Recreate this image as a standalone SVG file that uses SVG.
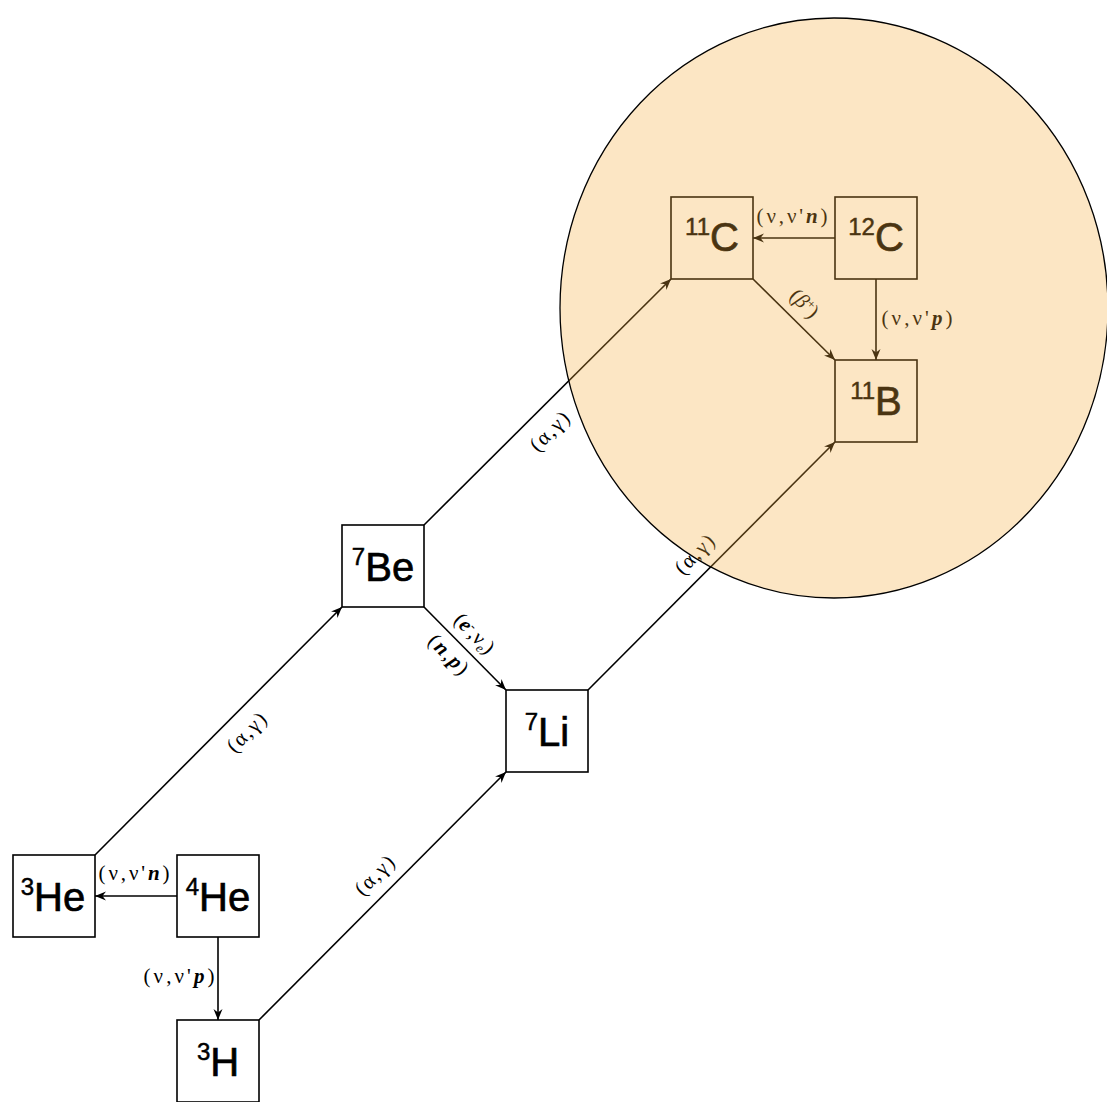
<svg xmlns="http://www.w3.org/2000/svg" width="1107" height="1102" viewBox="0 0 1107 1102">
<style>
.box{fill:#fff;stroke:#000;stroke-width:1.6}
.nt{font-family:"Liberation Sans",Arial,sans-serif;font-size:40px;fill:#000;stroke:#000;stroke-width:0.7;text-anchor:middle}
.sup{font-size:24px;stroke-width:0.5}
.lbl{font-family:"Liberation Serif","Times New Roman",serif;font-size:21px;fill:#000;text-anchor:middle}
.bi{font-weight:bold;font-style:italic}
.it{font-style:italic}
.edge{fill:none;stroke:#000;stroke-width:1.6;marker-end:url(#arr)}
</style>
<defs>
<marker id="arr" viewBox="0 0 11 10" refX="11" refY="5" markerWidth="11" markerHeight="10" markerUnits="userSpaceOnUse" orient="auto">
<path d="M0,0.5 L11,5 L0,9.5 L3.5,5 Z" fill="#000"/>
</marker>
</defs>
<rect width="1107" height="1102" fill="#fff"/>
<g id="connectors">
<line class="edge" x1="835" y1="238" x2="753" y2="238"/>
<line class="edge" x1="876" y1="279" x2="876" y2="360"/>
<line class="edge" x1="753" y1="279" x2="835" y2="360"/>
<line class="edge" x1="424" y1="525" x2="671" y2="279"/>
<line class="edge" x1="588" y1="690" x2="835" y2="442"/>
<line class="edge" x1="424" y1="607" x2="506" y2="690"/>
<line class="edge" x1="95" y1="855" x2="342" y2="607"/>
<line class="edge" x1="259" y1="1020" x2="506" y2="772"/>
<line class="edge" x1="177" y1="896" x2="95" y2="896"/>
<line class="edge" x1="218" y1="937" x2="218" y2="1020"/>
<text class="lbl" x="792" y="223" textLength="71" lengthAdjust="spacing">(ν,ν'<tspan class="bi">n</tspan>)</text>
<text class="lbl" x="917" y="325" textLength="71" lengthAdjust="spacing">(ν,ν'<tspan class="bi">p</tspan>)</text>
<text class="lbl" x="134" y="880" textLength="71" lengthAdjust="spacing">(ν,ν'<tspan class="bi">n</tspan>)</text>
<text class="lbl" x="179" y="983" textLength="71" lengthAdjust="spacing">(ν,ν'<tspan class="bi">p</tspan>)</text>
<g transform="translate(804,304) rotate(45)"><text class="lbl" x="0" y="6">(<tspan class="it">β</tspan><tspan font-size="13" dy="-7">+</tspan><tspan dy="7">)</tspan></text></g>
<g transform="translate(474,634) rotate(45)"><text class="lbl" x="0" y="6">(<tspan class="bi">e</tspan><tspan font-size="13" dy="-7">-</tspan><tspan dy="7">,ν</tspan><tspan font-size="13" class="it" dy="4">e</tspan><tspan dy="-4">)</tspan></text></g>
<g transform="translate(448,655) rotate(45)"><text class="lbl" x="0" y="6" textLength="48" lengthAdjust="spacing">(<tspan class="bi">n</tspan>,<tspan class="bi">p</tspan>)</text></g>
<g transform="translate(247,733) rotate(-45)"><text class="lbl" x="0" y="6" textLength="47" lengthAdjust="spacing">(α,γ)</text></g>
<g transform="translate(375,876) rotate(-45)"><text class="lbl" x="0" y="6" textLength="47" lengthAdjust="spacing">(α,γ)</text></g>
<g transform="translate(550,432) rotate(-45)"><text class="lbl" x="0" y="6" textLength="47" lengthAdjust="spacing">(α,γ)</text></g>
<g transform="translate(695,555) rotate(-45)"><text class="lbl" x="0" y="6" textLength="47" lengthAdjust="spacing">(α,γ)</text></g>
</g>
<g id="n11C"><rect class="box" x="671" y="197" width="82" height="82"/><text class="nt" x="712" y="251"><tspan class="sup" dy="-16">11</tspan><tspan dy="16">C</tspan></text></g>
<g id="n12C"><rect class="box" x="835" y="197" width="82" height="82"/><text class="nt" x="876" y="251"><tspan class="sup" dy="-16">12</tspan><tspan dy="16">C</tspan></text></g>
<g id="n11B"><rect class="box" x="835" y="360" width="82" height="82"/><text class="nt" x="876" y="415"><tspan class="sup" dy="-16">11</tspan><tspan dy="16">B</tspan></text></g>
<g id="n7Be"><rect class="box" x="342" y="525" width="82" height="82"/><text class="nt" x="383" y="581"><tspan class="sup" dy="-16">7</tspan><tspan dy="16">Be</tspan></text></g>
<g id="n7Li"><rect class="box" x="506" y="690" width="82" height="82"/><text class="nt" x="547" y="746"><tspan class="sup" dy="-16">7</tspan><tspan dy="16">Li</tspan></text></g>
<g id="n3He"><rect class="box" x="13" y="855" width="82" height="82"/><text class="nt" x="53" y="911"><tspan class="sup" dy="-16">3</tspan><tspan dy="16">He</tspan></text></g>
<g id="n4He"><rect class="box" x="177" y="855" width="82" height="82"/><text class="nt" x="218" y="911"><tspan class="sup" dy="-16">4</tspan><tspan dy="16">He</tspan></text></g>
<g id="n3H"><rect class="box" x="177" y="1020" width="82" height="82"/><text class="nt" x="218" y="1076"><tspan class="sup" dy="-16">3</tspan><tspan dy="16">H</tspan></text></g>
<g id="region"><ellipse cx="834" cy="308" rx="274" ry="290" fill="#F5AC3C" fill-opacity="0.3" stroke="#000" stroke-width="1.3"/></g>
</svg>
